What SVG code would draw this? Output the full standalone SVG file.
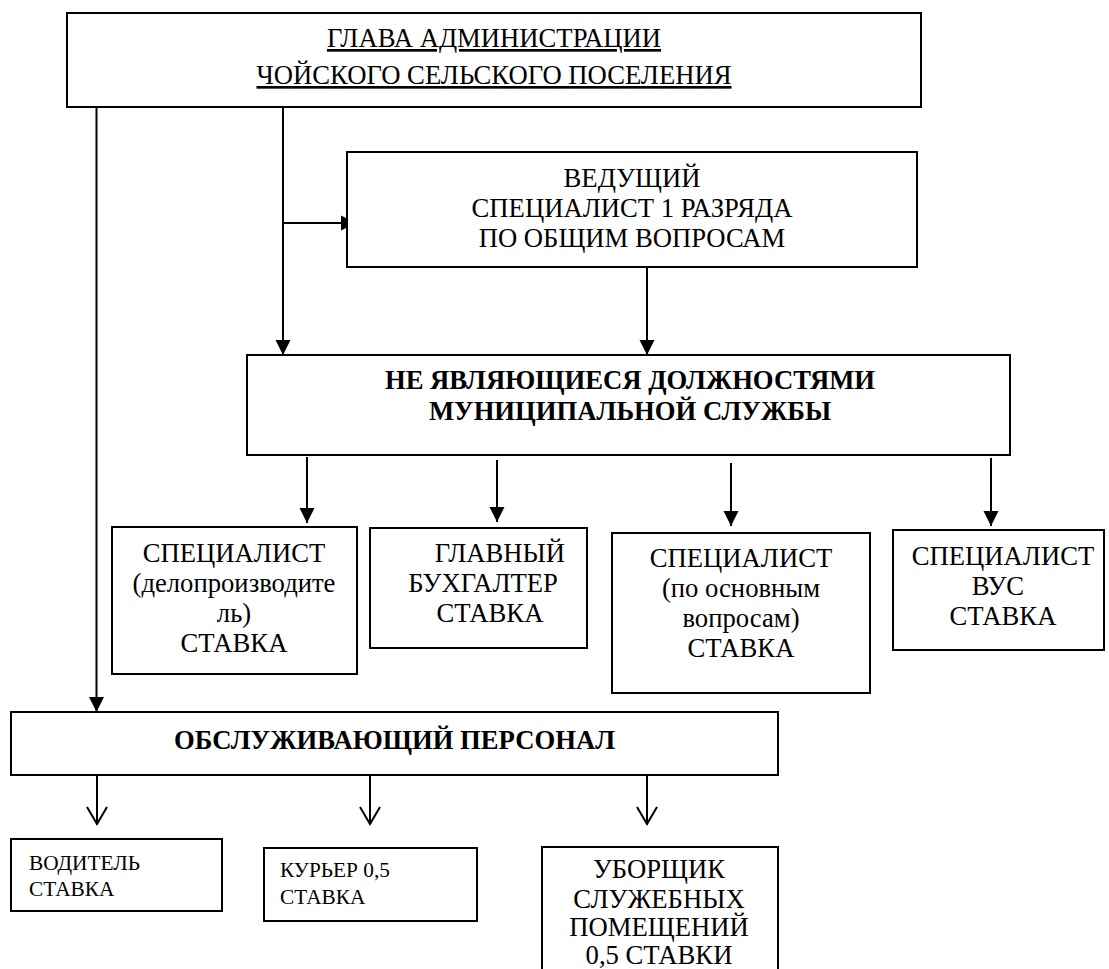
<svg xmlns="http://www.w3.org/2000/svg" width="1109" height="969" viewBox="0 0 1109 969">
<defs>
<style>
.box{fill:#fff;stroke:#000;stroke-width:2}
text{font-family:'Liberation Serif','Times New Roman',Times,'DejaVu Serif',serif;font-size:26.67px;fill:#000;text-anchor:middle}
.b{font-weight:bold}
.s{font-size:21.33px;text-anchor:start}
.u{text-decoration:underline}
.ln{fill:none;stroke:#000;stroke-width:2}
</style>
<marker id="af" markerUnits="userSpaceOnUse" markerWidth="16" markerHeight="16" viewBox="0 0 16 16" refX="15" refY="8" orient="auto">
<path d="M0,0.5 L15,8 L0,15.5 Z" fill="#000"/>
</marker>
<marker id="ao" markerUnits="userSpaceOnUse" markerWidth="20" markerHeight="24" viewBox="0 0 20 24" refX="18" refY="12" orient="auto">
<path d="M1,2 L18,12 L1,22" fill="none" stroke="#000" stroke-width="2"/>
</marker>
</defs>
<rect width="1109" height="969" fill="#fff"/>

<g id="connectors">
<path class="ln" d="M96.5,107 V712" marker-end="url(#af)"/>
<path class="ln" d="M283,107 V355" marker-end="url(#af)"/>
<path class="ln" d="M283,223 H356" marker-end="url(#af)"/>
<path class="ln" d="M647,267 V355" marker-end="url(#af)"/>
<path class="ln" d="M307,457 V523" marker-end="url(#af)"/>
<path class="ln" d="M497,460 V522" marker-end="url(#af)"/>
<path class="ln" d="M731,463 V526" marker-end="url(#af)"/>
<path class="ln" d="M991,458 V526" marker-end="url(#af)"/>
<path class="ln" d="M97,775 V824" marker-end="url(#ao)"/>
<path class="ln" d="M370,775 V824" marker-end="url(#ao)"/>
<path class="ln" d="M647,775 V824" marker-end="url(#ao)"/>
</g>

<g id="head">
<rect class="box" x="67" y="13" width="854" height="94"/>
<text class="u" x="494" y="47">ГЛАВА АДМИНИСТРАЦИИ</text>
<text class="u" x="494" y="84">ЧОЙСКОГО СЕЛЬСКОГО ПОСЕЛЕНИЯ</text>
</g>

<g id="lead">
<rect class="box" x="347" y="152" width="570" height="115"/>
<text x="632" y="187">ВЕДУЩИЙ</text>
<text x="632" y="217">СПЕЦИАЛИСТ 1 РАЗРЯДА</text>
<text x="632" y="247">ПО ОБЩИМ ВОПРОСАМ</text>
</g>

<g id="nonmun">
<rect class="box" x="247" y="355" width="763" height="100"/>
<text class="b" x="630" y="389">НЕ ЯВЛЯЮЩИЕСЯ ДОЛЖНОСТЯМИ</text>
<text class="b" x="630" y="420">МУНИЦИПАЛЬНОЙ СЛУЖБЫ</text>
</g>

<g id="clerk">
<rect class="box" x="112" y="527" width="245" height="147"/>
<text x="234" y="562">СПЕЦИАЛИСТ</text>
<text x="234" y="592">(делопроизводите</text>
<text x="234" y="622">ль)</text>
<text x="234" y="652">СТАВКА</text>
</g>

<g id="accountant">
<rect class="box" x="370" y="528" width="217" height="120"/>
<text x="500" y="562">ГЛАВНЫЙ</text>
<text x="483" y="592">БУХГАЛТЕР</text>
<text x="490" y="622">СТАВКА</text>
</g>

<g id="specialist">
<rect class="box" x="612" y="533" width="258" height="160"/>
<text x="741" y="567">СПЕЦИАЛИСТ</text>
<text x="741" y="597">(по основным</text>
<text x="741" y="627">вопросам)</text>
<text x="741" y="657">СТАВКА</text>
</g>

<g id="vus">
<rect class="box" x="893" y="530" width="211" height="120"/>
<text x="1003" y="565">СПЕЦИАЛИСТ</text>
<text x="998" y="595">ВУС</text>
<text x="1003" y="625">СТАВКА</text>
</g>

<g id="service">
<rect class="box" x="11" y="712" width="767" height="63"/>
<text class="b" x="394.5" y="749">ОБСЛУЖИВАЮЩИЙ ПЕРСОНАЛ</text>
</g>

<g id="driver">
<rect class="box" x="11" y="839" width="211" height="72"/>
<text class="s" x="29" y="870">ВОДИТЕЛЬ</text>
<text class="s" x="29" y="896">СТАВКА</text>
</g>

<g id="courier">
<rect class="box" x="264" y="848" width="213" height="73"/>
<text class="s" x="280" y="877">КУРЬЕР 0,5</text>
<text class="s" x="280" y="904">СТАВКА</text>
</g>

<g id="cleaner">
<rect class="box" x="542" y="847" width="236" height="140"/>
<text x="659" y="878">УБОРЩИК</text>
<text x="659" y="908">СЛУЖЕБНЫХ</text>
<text x="659" y="936">ПОМЕЩЕНИЙ</text>
<text x="659" y="964">0,5 СТАВКИ</text>
</g>
</svg>
